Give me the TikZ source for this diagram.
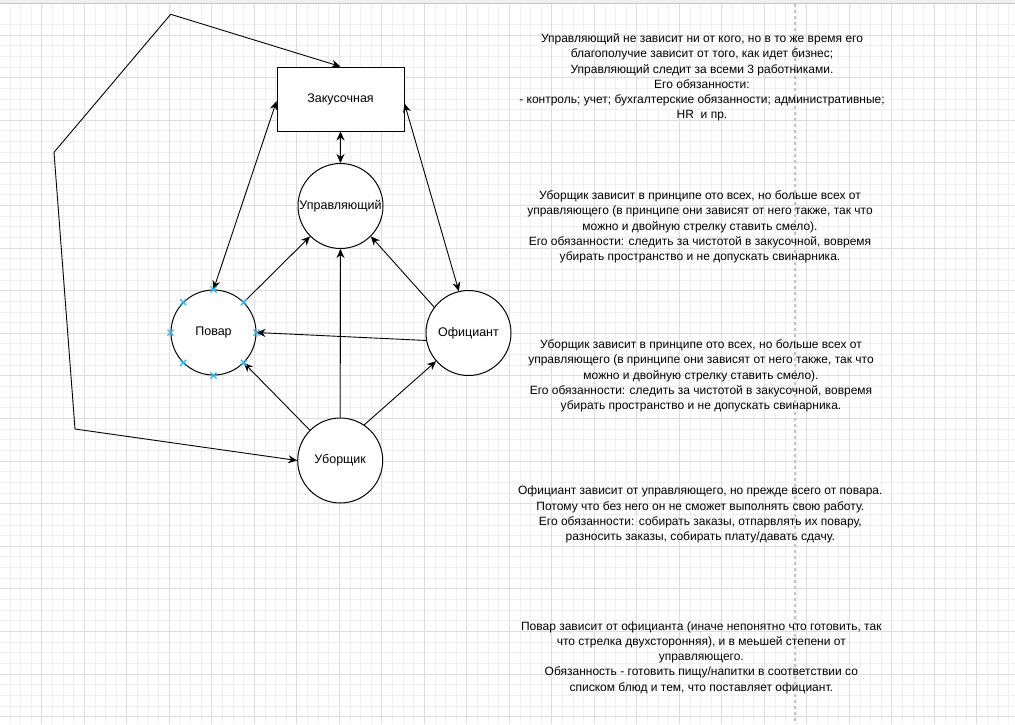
\documentclass[tikz,border=0pt]{standalone}
\usepackage{fontspec}
\setmainfont{Liberation Sans}
\usetikzlibrary{arrows.meta}
\definecolor{gridmajor}{HTML}{DDDDDD}
\definecolor{gridminor}{HTML}{F0F0F0}
\definecolor{cpblue}{HTML}{29B6F2}
\definecolor{pagebreak}{HTML}{C4C4C4}
\begin{document}
\begin{tikzpicture}[x=1pt,y=-1pt,
  txt/.style={align=center,font=\fontsize{12}{15.2}\selectfont,inner sep=0pt},
  circ/.style={circle,draw=black,line width=1pt,fill=white,minimum size=85pt,inner sep=0pt,font=\fontsize{12.5}{14}\selectfont},
  boxnode/.style={rectangle,draw=black,line width=1pt,fill=white,minimum width=127pt,minimum height=64pt,inner sep=0pt,font=\fontsize{12.5}{14}\selectfont},
  arr/.style={line width=0.9pt,-{Stealth[length=9pt,width=8pt,inset=3pt]}},
  darr/.style={line width=0.9pt,{Stealth[length=9pt,width=8pt,inset=3pt]}-{Stealth[length=9pt,width=8pt,inset=3pt]}},
  cpx/.style={draw=cpblue,line width=1.2pt}
]
\useasboundingbox (0,0) rectangle (1015,724);
\fill[white] (0,0) rectangle (1015,724);
% grid
\foreach \i in {0,...,96} {
  \draw[gridminor,line width=0.8pt] ({\i*10.625-0.7},3) -- ({\i*10.625-0.7},724);
}
\foreach \j in {-1,...,66} {
  \draw[gridminor,line width=0.8pt] (0,{35+\j*10.65}) -- (1015,{35+\j*10.65});
}
\foreach \i in {0,...,24} {
  \draw[gridmajor,line width=0.9pt] ({\i*42.5-0.7},3) -- ({\i*42.5-0.7},724);
}
\foreach \j in {0,...,16} {
  \draw[gridmajor,line width=0.9pt] (0,{35+\j*42.6}) -- (1015,{35+\j*42.6});
}
% page break
\draw[pagebreak,line width=1.2pt,dash pattern=on 3pt off 3pt] (795,4) -- (795,724);
% top bar
\fill[gray!12] (0,0) rectangle (1015,3);
\draw[gray!45,line width=0.8pt] (0,3) -- (1015,3);

% nodes
\node[boxnode] (zak) at (340.5,99) {Закусочная};
\node[circ] (upr) at (340.5,206) {Управляющий};
\node[circ] (pov) at (213.5,332.5) {Повар};
\node[circ] (off) at (468.5,333) {Официант};
\node[circ] (ub) at (340.2,460.5) {Уборщик};

% connectors
\draw[darr] (zak.south) -- (upr.north);
\draw[darr] (zak.182) -- (pov.north);
\draw[darr] (zak.-4) -- (off.103);
\draw[arr] (pov.45) -- (upr.-135);
\draw[arr] (off.143) -- (upr.-45);
\draw[arr] (off.190) -- (pov.east);
\draw[arr] (ub.north) -- (upr.south);
\draw[arr] (ub.135) -- (pov.-45);
\draw[arr] (ub.56) -- (off.221);
\coordinate (w1) at (75,429);
\coordinate (w2) at (54,152.3);
\coordinate (w3) at (170.7,14.3);
\draw[darr,line join=round] (ub.west) -- (w1) -- (w2) -- (w3) -- (zak.north);

% connection point marks on Повар
\foreach \a in {0,45,...,315} {
  \path (pov.\a) coordinate (cp\a);
  \draw[cpx] ([shift={(-3,-3)}]cp\a) -- ([shift={(3,3)}]cp\a);
  \draw[cpx] ([shift={(-3,3)}]cp\a) -- ([shift={(3,-3)}]cp\a);
}

% text blocks
\node[txt] (t1) at (702,77.5) {Управляющий не зависит ни от кого, но в то же время его\\благополучие зависит от того, как идет бизнес;\\Управляющий следит за всеми 3 работниками.\\Его обязанности:\\- контроль; учет; бухгалтерские обязанности; административные;\\HR\ \ и пр.};
\node[txt] (t2) at (700,227) {Уборщик зависит в принципе ото всех, но больше всех от\\управляющего (в принципе они зависят от него также, так что\\можно и двойную стрелку ставить смело).\\Его обязанности: следить за чистотой в закусочной, вовремя\\убирать пространство и не допускать свинарника.};
\node[txt] (t3) at (701,376) {Уборщик зависит в принципе ото всех, но больше всех от\\управляющего (в принципе они зависят от него также, так что\\можно и двойную стрелку ставить смело).\\Его обязанности: следить за чистотой в закусочной, вовремя\\убирать пространство и не допускать свинарника.};
\node[txt] (t4) at (700.3,514.5) {Официант зависит от управляющего, но прежде всего от повара.\\Потому что без него он не сможет выполнять свою работу.\\Его обязанности: собирать заказы, отпарвлять их повару,\\разносить заказы, собирать плату/давать сдачу.};
\node[txt] (t5) at (701.3,657.5) {Повар зависит от официанта (иначе непонятно что готовить, так\\что стрелка двухсторонняя), и в меьшей степени от\\управляющего.\\Обязанность - готовить пищу/напитки в соответствии со\\списком блюд и тем, что поставляет официант.};
\end{tikzpicture}
\end{document}
